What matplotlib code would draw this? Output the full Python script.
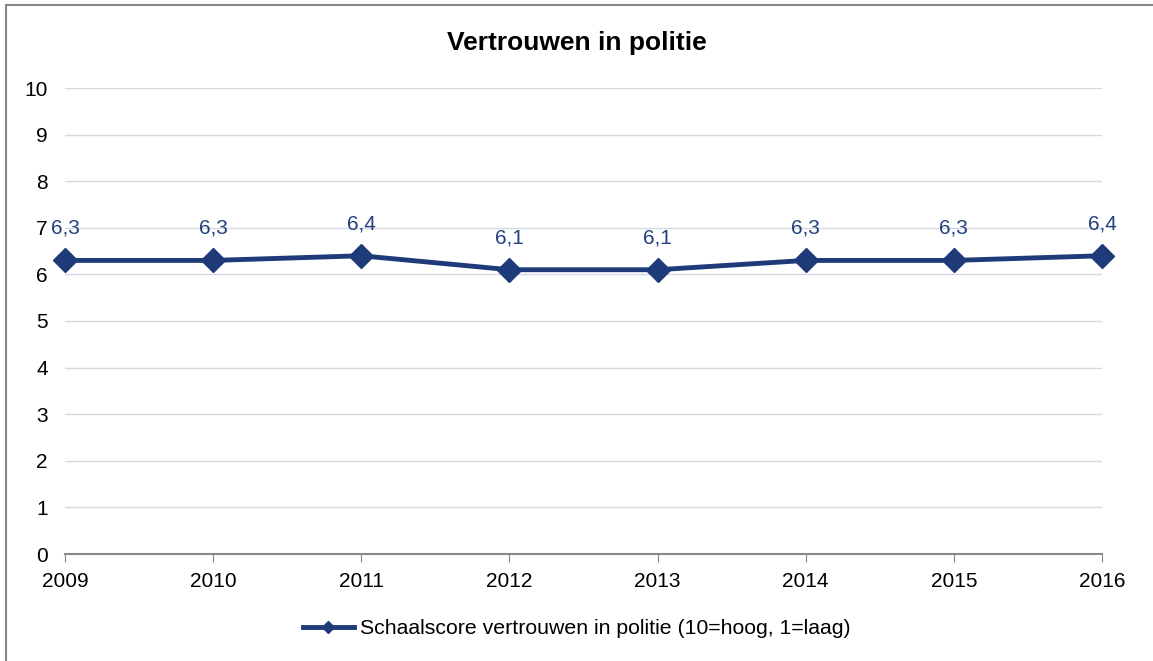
import matplotlib
matplotlib.use("Agg")
import matplotlib.pyplot as plt
from matplotlib.patches import Rectangle

years = [2009, 2010, 2011, 2012, 2013, 2014, 2015, 2016]
scores = [6.3, 6.3, 6.4, 6.1, 6.1, 6.3, 6.3, 6.4]
score_labels = ["6,3", "6,3", "6,4", "6,1", "6,1", "6,3", "6,3", "6,4"]
y_ticks = list(range(0, 11))
title = "Vertrouwen in politie"
series_name = "Schaalscore vertrouwen in politie (10=hoog, 1=laag)"

navy = "#1F3A78"
W, H = 1153, 661
plt.rcParams["font.family"] = ["Liberation Sans", "DejaVu Sans"]

fig = plt.figure(figsize=(W / 100, H / 100), dpi=100)
ax = fig.add_axes([65 / W, 1 - 554 / H, (1102 - 65) / W, (554 - 88) / H])

ax.plot(years, scores, color=navy, lw=3.5, marker="D", ms=12,
        clip_on=False, zorder=3, label=series_name)
for x, y, s in zip(years, scores, score_labels):
    ax.annotate(s, (x, y), xytext=(0, 23), textcoords="offset points",
                ha="center", va="center", color="#23417E", fontsize=15)

ax.set_xlim(years[0], years[-1])
ax.set_ylim(0, 10)
ax.set_xticks(years)
ax.set_yticks(y_ticks)
ax.tick_params(axis="x", labelsize=15, length=6, color="#888888", pad=7)
ax.tick_params(axis="y", labelsize=15, length=0, pad=12.5)
ax.grid(axis="y", color="#D5D8E2", lw=1)
ax.set_axisbelow(True)
for side in ["top", "right", "left"]:
    ax.spines[side].set_visible(False)
ax.spines["bottom"].set_color("#888888")
ax.spines["bottom"].set_linewidth(1.5)

fig.text(0.5, 1 - 43 / H, title, ha="center", va="center",
         fontsize=19, fontweight="bold")

leg = fig.legend(handles=ax.get_lines(), loc="center",
                 bbox_to_anchor=(0.5, 1 - 629 / H), frameon=False,
                 fontsize=15.3, handlelength=2.4, handletextpad=0.3,
                 markerscale=0.55)

# outer chart border
fig.patches.append(Rectangle((6 / W, -0.05), 1.1, 1 - 5 / H + 0.05,
                             transform=fig.transFigure, fill=False,
                             edgecolor="#888888", lw=1.5))

fig.savefig("out.png", dpi=100)
